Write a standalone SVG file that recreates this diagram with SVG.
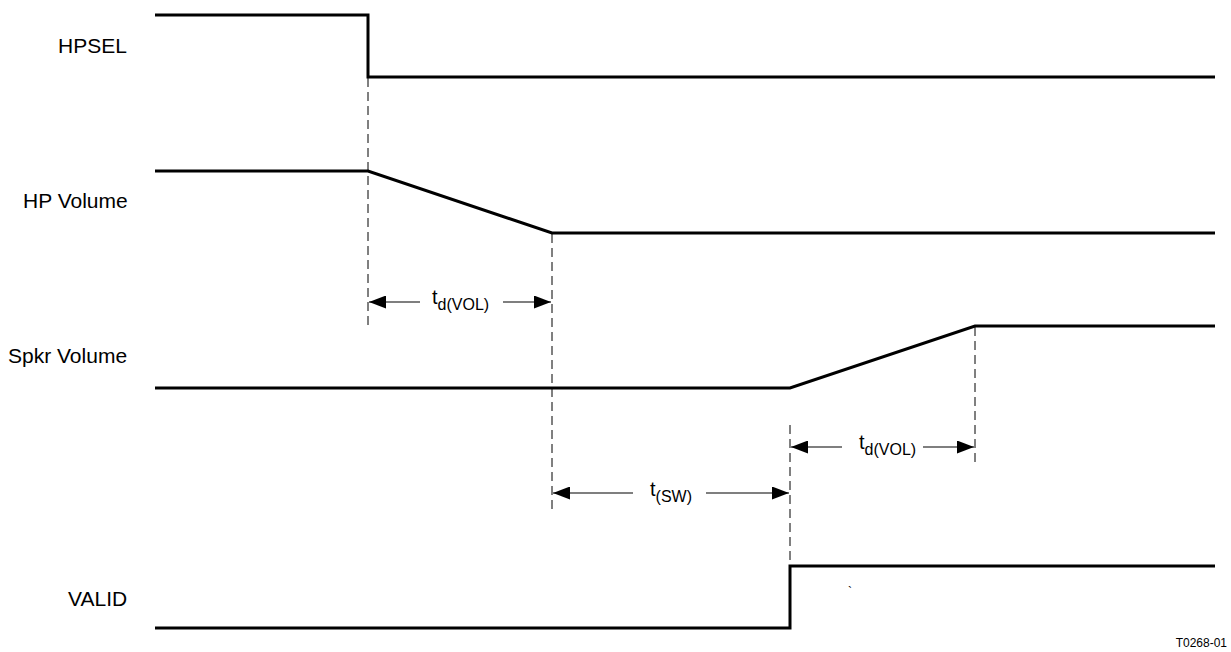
<svg xmlns="http://www.w3.org/2000/svg" width="1231" height="652" viewBox="0 0 1231 652">
<defs>
<style>
.sig{fill:none;stroke:#000;stroke-width:3;stroke-linejoin:miter}
.dash{fill:none;stroke:#000;stroke-width:1;stroke-dasharray:9,5}
.dim{fill:none;stroke:#000;stroke-width:1.2}
.lbl{font-family:"Liberation Sans",Arial,sans-serif;font-size:21px;fill:#000}
.t{font-family:"Liberation Sans",Arial,sans-serif;font-size:20px;fill:#000}
.sub{font-size:16px}
.small{font-family:"Liberation Sans",Arial,sans-serif;font-size:12px;fill:#000}
</style>
<marker id="ah" viewBox="0 0 17 13" refX="17" refY="6.5" markerWidth="17" markerHeight="13" markerUnits="userSpaceOnUse" orient="auto-start-reverse">
<path d="M0,0 L17,6.5 L0,13 Z" fill="#000"/>
</marker>
</defs>
<rect width="1231" height="652" fill="#fff"/>
<g id="connectors">
<line class="dash" x1="368" y1="78" x2="368" y2="328"/>
<line class="dash" x1="552" y1="234" x2="552" y2="510"/>
<line class="dash" x1="790" y1="425" x2="790" y2="566"/>
<line class="dash" x1="975" y1="327" x2="975" y2="462"/>
<line class="dim" x1="420" y1="302" x2="369" y2="302" marker-end="url(#ah)"/>
<line class="dim" x1="503" y1="302" x2="551" y2="302" marker-end="url(#ah)"/>
<line class="dim" x1="633" y1="493" x2="553" y2="493" marker-end="url(#ah)"/>
<line class="dim" x1="706" y1="493" x2="789" y2="493" marker-end="url(#ah)"/>
<line class="dim" x1="842" y1="447" x2="791" y2="447" marker-end="url(#ah)"/>
<line class="dim" x1="923" y1="447" x2="974" y2="447" marker-end="url(#ah)"/>
</g>
<g id="hpsel">
<text class="lbl" x="58" y="53">HPSEL</text>
<polyline class="sig" points="155,15 368,15 368,77 1215,77"/>
</g>
<g id="hpvolume">
<text class="lbl" x="23" y="208">HP Volume</text>
<polyline class="sig" points="155,171 368,171 552,233 1215,233"/>
</g>
<g id="spkrvolume">
<text class="lbl" x="8" y="363">Spkr Volume</text>
<polyline class="sig" points="155,388 790,388 975,326 1215,326"/>
</g>
<g id="valid">
<text class="lbl" x="68" y="606">VALID</text>
<polyline class="sig" points="155,628 790,628 790,566 1215,566"/>
</g>
<g id="label-tdvol1">
<text class="t" x="432" y="304">t<tspan class="sub" dy="6">d(VOL)</tspan></text>
</g>
<g id="label-tsw">
<text class="t" x="650" y="496">t<tspan class="sub" dy="6">(SW)</tspan></text>
</g>
<g id="label-tdvol2">
<text class="t" x="859" y="449">t<tspan class="sub" dy="6">d(VOL)</tspan></text>
</g>
<text class="small" x="848" y="596">`</text>
<text class="small" x="1227" y="647" text-anchor="end">T0268-01</text>
</svg>
